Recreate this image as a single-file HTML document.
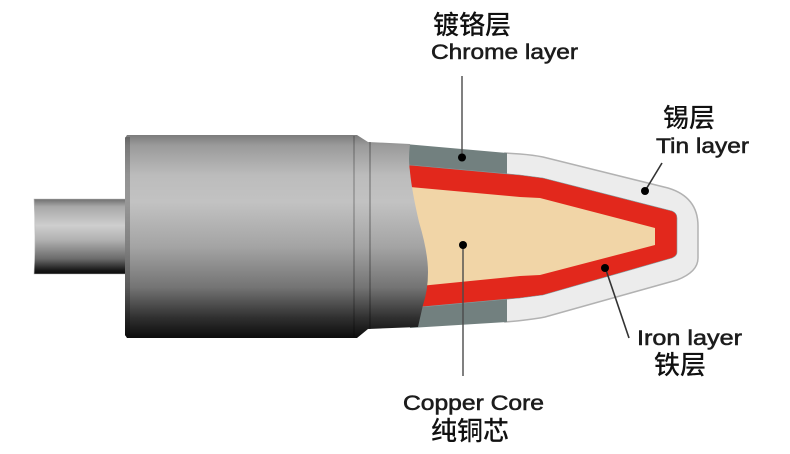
<!DOCTYPE html>
<html>
<head>
<meta charset="utf-8">
<style>
html,body{margin:0;padding:0;background:#fff;width:790px;height:454px;overflow:hidden}
svg{display:block;filter:blur(.35px)}
.en{font-family:"Liberation Sans",sans-serif;font-size:21px;fill:#1c1c1c;stroke:#1c1c1c;stroke-width:.55px}
.cn{font-family:"Liberation Sans","Noto Sans CJK SC",sans-serif;font-size:26px;fill:#111;font-weight:500}
</style>
</head>
<body>
<svg width="790" height="454" viewBox="0 0 790 454" xmlns="http://www.w3.org/2000/svg">
<defs>
<linearGradient id="barrel" x1="0" y1="0" x2="0" y2="1">
<stop offset="0" stop-color="#7c7c7c"/>
<stop offset=".05" stop-color="#9a9a9a"/>
<stop offset=".2" stop-color="#bcbcbc"/>
<stop offset=".33" stop-color="#c2c2c2"/>
<stop offset=".55" stop-color="#a4a4a4"/>
<stop offset=".75" stop-color="#747474"/>
<stop offset=".9" stop-color="#303030"/>
<stop offset="1" stop-color="#0c0c0c"/>
</linearGradient>
<linearGradient id="stem" x1="0" y1="0" x2="0" y2="1">
<stop offset="0" stop-color="#6e6e6e"/>
<stop offset=".1" stop-color="#a8a8a8"/>
<stop offset=".35" stop-color="#cecece"/>
<stop offset=".55" stop-color="#b0b0b0"/>
<stop offset=".8" stop-color="#6a6a6a"/>
<stop offset=".95" stop-color="#181818"/>
<stop offset="1" stop-color="#0a0a0a"/>
</linearGradient>
</defs>
<rect width="790" height="454" fill="#fff"/>

<!-- stem -->
<path d="M34 199H126V274H34Q36 236 34 199Z" fill="url(#stem)" stroke="#bbb" stroke-width=".6"/>

<!-- tin layer -->
<path d="M505 153L520 154Q533 155 543 157L668 188Q698 197 698 226V258Q698 272 677 280L545 317Q530 320 505 322Z" fill="#ececec" stroke="#b2b2b2" stroke-width="1.5"/>

<!-- chrome layer -->
<path d="M405 144L507 153V322L410 328Z" fill="#72807f"/>

<!-- red -->
<path d="M409 165L520 175L543 178L672 211Q677 213 677 218V252Q677 256 672 258L543 295L520 298L420 307Z" fill="#e2281c" stroke="#7fa0a4" stroke-width=".6"/>

<!-- copper -->
<path d="M410 187L520 197L540 198L655 228V245L540 275L520 276L420 286Z" fill="#f1d5a7"/>

<!-- body front -->
<path d="M127 135H357L368 142L410 144Q408 160 410 172Q412 192 419 222Q428 252 428 272Q428 290 423 305Q420 318 418 327L368 329L357 338H127L125 335V138Z" fill="url(#barrel)"/>
<rect x="125" y="137" width="5" height="199" fill="#000" opacity=".22"/>
<rect x="353" y="136" width="2" height="201" fill="#000" opacity=".18"/>
<rect x="369" y="142" width="2" height="187" fill="#000" opacity=".22"/>

<!-- leaders -->
<g stroke="#4a4a4a" stroke-width="1.4" fill="none">
<line x1="462" y1="76" x2="462" y2="157"/>
<line x1="463" y1="245" x2="463" y2="376"/>
</g>
<g stroke="#333" stroke-width="1.6" fill="none">
<line x1="645" y1="191" x2="662" y2="163"/>
<line x1="605" y1="267" x2="629" y2="338"/>
</g>
<g fill="#000">
<circle cx="462" cy="157.500" r="4"/>
<circle cx="463" cy="245" r="4"/>
<circle cx="645" cy="191" r="4"/>
<circle cx="605" cy="268" r="4"/>
</g>

<!-- labels -->
<text class="cn" x="433" y="34" textLength="78" lengthAdjust="spacingAndGlyphs">镀铬层</text>
<text class="en" x="431" y="59" textLength="147" lengthAdjust="spacingAndGlyphs">Chrome layer</text>
<text class="cn" x="663" y="127" textLength="52" lengthAdjust="spacingAndGlyphs">锡层</text>
<text class="en" x="656" y="153" textLength="93" lengthAdjust="spacingAndGlyphs">Tin layer</text>
<text class="en" x="637" y="345" textLength="105" lengthAdjust="spacingAndGlyphs">Iron layer</text>
<text class="cn" x="654" y="374" textLength="52" lengthAdjust="spacingAndGlyphs">铁层</text>
<text class="en" x="403" y="410" textLength="141" lengthAdjust="spacingAndGlyphs">Copper Core</text>
<text class="cn" x="431" y="440" textLength="78" lengthAdjust="spacingAndGlyphs">纯铜芯</text>
</svg>
</body>
</html>
